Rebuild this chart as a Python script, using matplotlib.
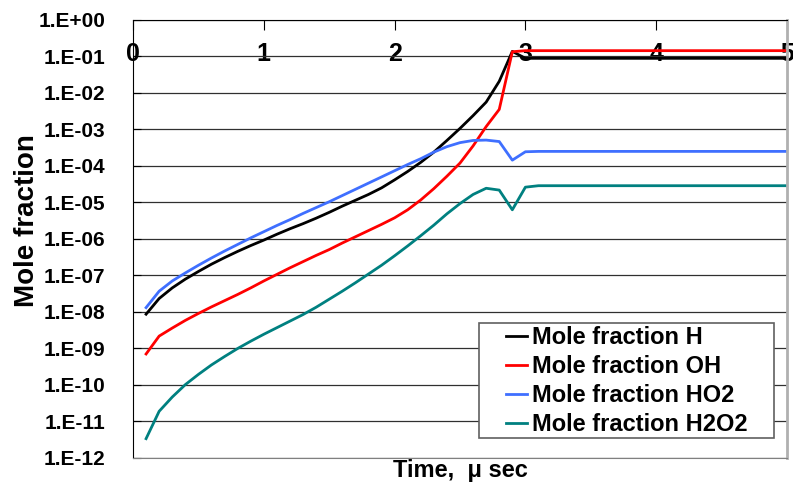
import numpy as np
import matplotlib
matplotlib.use("Agg")
import matplotlib.pyplot as plt
from matplotlib.patches import Rectangle
from matplotlib.ticker import FixedLocator, FuncFormatter, NullLocator

plt.rcParams['font.family'] = ['Liberation Sans', 'DejaVu Sans']
plt.rcParams['font.weight'] = 'bold'
plt.rcParams['axes.labelweight'] = 'bold'

# time, microseconds
time_us = [0.1, 0.2, 0.3, 0.4, 0.5, 0.6, 0.7, 0.8, 0.9, 1.0,
           1.1, 1.2, 1.3, 1.4, 1.5, 1.6, 1.7, 1.8, 1.9, 2.0,
           2.1, 2.2, 2.3, 2.4, 2.5, 2.6, 2.7, 2.8, 2.9, 3.0,
           3.1, 3.5, 4.0, 4.5, 5.0]

# log10 of mole fractions
log_h = [-8.06, -7.63, -7.34, -7.10, -6.89, -6.69, -6.51, -6.34, -6.18, -6.03,
         -5.87, -5.72, -5.58, -5.43, -5.27, -5.10, -4.94, -4.78, -4.60, -4.38,
         -4.15, -3.90, -3.62, -3.30, -2.97, -2.62, -2.25, -1.68, -0.86, -1.05,
         -1.05, -1.05, -1.05, -1.05, -1.05]
log_oh = [-9.15, -8.66, -8.44, -8.23, -8.04, -7.86, -7.69, -7.52, -7.34, -7.15,
          -6.97, -6.79, -6.62, -6.45, -6.29, -6.11, -5.94, -5.77, -5.60, -5.42,
          -5.20, -4.93, -4.62, -4.28, -3.92, -3.45, -2.92, -2.45, -0.87, -0.84,
          -0.84, -0.84, -0.84, -0.84, -0.84]
log_ho2 = [-7.88, -7.43, -7.15, -6.93, -6.72, -6.52, -6.33, -6.15, -5.97, -5.80,
           -5.63, -5.47, -5.30, -5.14, -4.98, -4.81, -4.64, -4.47, -4.30, -4.13,
           -3.96, -3.80, -3.62, -3.47, -3.36, -3.30, -3.29, -3.33, -3.84, -3.61,
           -3.60, -3.60, -3.60, -3.60, -3.60]
log_h2o2 = [-11.47, -10.72, -10.33, -9.99, -9.71, -9.45, -9.22, -9.00, -8.80, -8.61,
            -8.43, -8.25, -8.07, -7.87, -7.65, -7.43, -7.20, -6.96, -6.72, -6.46,
            -6.19, -5.91, -5.62, -5.31, -5.03, -4.78, -4.61, -4.66, -5.20, -4.58,
            -4.54, -4.54, -4.54, -4.54, -4.54]

labels = ['Mole fraction H', 'Mole fraction OH', 'Mole fraction HO2', 'Mole fraction H2O2']
colors = ['#000000', '#ff0000', '#3f6fff', '#008080']
series = [log_h, log_oh, log_ho2, log_h2o2]

fig = plt.figure(figsize=(7.93, 4.88), dpi=100)
ax = fig.add_axes([133 / 793, 30 / 488, 654 / 793, 438 / 488])

for s, c, lab in zip(series, colors, labels):
    ax.plot(time_us, 10 ** np.array(s), color=c, lw=2.0, label=lab)

ax.set_yscale('log')
ax.set_ylim(1e-12, 1e0)
ax.set_xlim(0, 5)

ax.yaxis.set_major_locator(FixedLocator([10.0 ** e for e in range(-12, 1)]))
ax.yaxis.set_minor_locator(NullLocator())
ax.yaxis.set_major_formatter(FuncFormatter(lambda v, p: '1.E%+03d' % round(np.log10(v))))
ax.grid(axis='y', color='#303030', lw=0.9)
ax.tick_params(axis='y', direction='in', length=6, labelsize=15, pad=20)

ax.xaxis.tick_top()
ax.set_xticks([0, 1, 2, 3, 4, 5])
ax.tick_params(axis='x', direction='in', length=7, labelsize=18, pad=-33)
ax.xaxis.set_label_position('bottom')
ax.set_xlabel('Time,  \u03bc sec', fontsize=17, labelpad=1)
ax.set_ylabel('Mole fraction', fontsize=20)
ax.yaxis.set_label_coords(-0.142, 0.543)

ax.spines['right'].set_color('#b0b0b0')
ax.spines['right'].set_linewidth(2)
ax.spines['bottom'].set_color('#808080')

# legend box
box = Rectangle((479 / 793, (488 - 438) / 488), 295 / 793, 115 / 488,
                transform=fig.transFigure, facecolor='white', edgecolor='#606060',
                lw=1.2, zorder=4, clip_on=False)
ax.add_patch(box)
leg = ax.legend(loc='center', bbox_to_anchor=(627 / 793, (488 - 381) / 488),
                bbox_transform=fig.transFigure, fontsize=17, frameon=False,
                handlelength=0.9, handletextpad=0.2, labelspacing=0.25,
                borderpad=0.1)
leg.set_zorder(5)

fig.savefig('out.png', dpi=100)
